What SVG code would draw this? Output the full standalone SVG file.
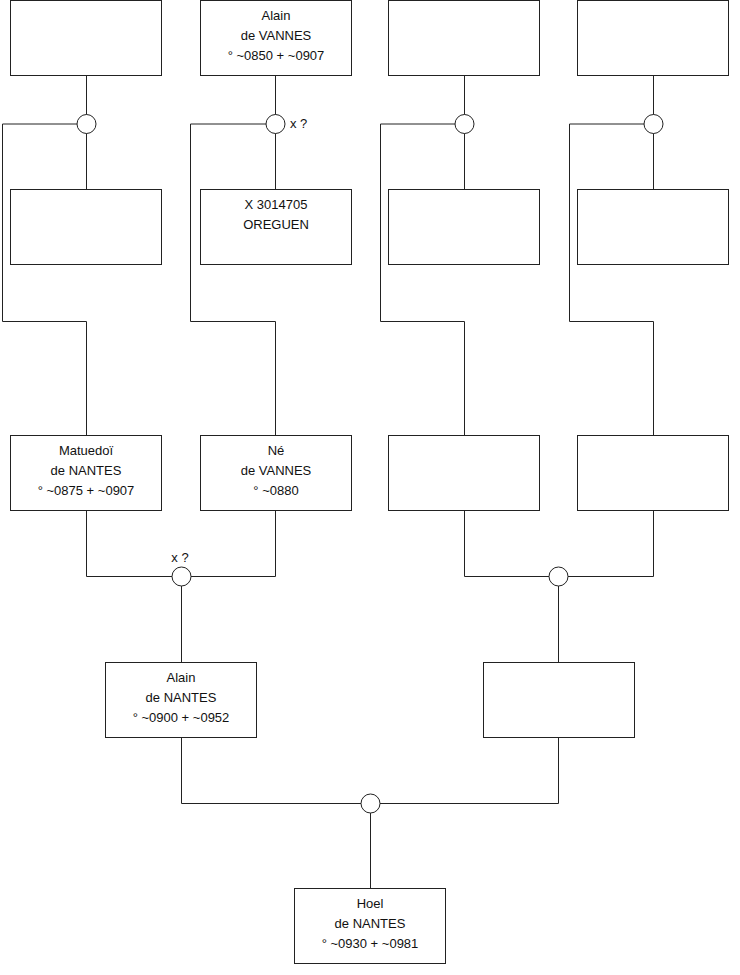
<svg xmlns="http://www.w3.org/2000/svg" width="740" height="975" viewBox="0 0 740 975">
<style>
.b{fill:#fff;stroke:#222;stroke-width:1}
.c{fill:#fff;stroke:#222;stroke-width:1}
.l{fill:none;stroke:#222;stroke-width:1}
text{font-family:"Liberation Sans",Arial,sans-serif;font-size:13px;fill:#111;text-anchor:middle}
.s{text-anchor:start}
</style>
<rect width="740" height="975" fill="#fff"/>
<g id="connectors">
<path class="l" d="M86.5 76V189M86.5 124H2.5V321.5H86.5V435"/>
<path class="l" d="M275.5 76V189M275.5 124H190.5V321.5H275.5V435"/>
<path class="l" d="M464.5 76V189M464.5 124H380.5V321.5H464.5V435"/>
<path class="l" d="M653.5 76V189M653.5 124H569.5V321.5H653.5V435"/>
<path class="l" d="M86.5 510V576.5H275.5V510M181.5 576.5V662"/>
<path class="l" d="M464.5 510V576.5H653.5V510M558.5 576.5V662"/>
<path class="l" d="M181.5 737V803.5H558.5V737M370.5 803.5V888"/>
</g>
<g id="u1"><circle class="c" cx="86.5" cy="124" r="9.5"/></g>
<g id="u2"><circle class="c" cx="275.5" cy="124" r="9.5"/><text class="s" x="290" y="128">x ?</text></g>
<g id="u3"><circle class="c" cx="464.5" cy="124" r="9.5"/></g>
<g id="u4"><circle class="c" cx="653.5" cy="124" r="9.5"/></g>
<g id="u5"><circle class="c" cx="181.5" cy="576.5" r="9.5"/><text x="180" y="562">x ?</text></g>
<g id="u6"><circle class="c" cx="558.5" cy="576.5" r="9.5"/></g>
<g id="u7"><circle class="c" cx="370.5" cy="803.5" r="9.5"/></g>
<g id="p1"><rect class="b" x="10.5" y="0.5" width="151" height="75"/></g>
<g id="p2"><rect class="b" x="200.5" y="0.5" width="151" height="75"/><text x="276" y="20">Alain</text><text x="276" y="40">de VANNES</text><text x="276" y="60">° ~0850 + ~0907</text></g>
<g id="p3"><rect class="b" x="388.5" y="0.5" width="151" height="75"/></g>
<g id="p4"><rect class="b" x="577.5" y="0.5" width="151" height="75"/></g>
<g id="p5"><rect class="b" x="10.5" y="189.5" width="151" height="75"/></g>
<g id="p6"><rect class="b" x="200.5" y="189.5" width="151" height="75"/><text x="276" y="209">X 3014705</text><text x="276" y="229">OREGUEN</text></g>
<g id="p7"><rect class="b" x="388.5" y="189.5" width="151" height="75"/></g>
<g id="p8"><rect class="b" x="577.5" y="189.5" width="151" height="75"/></g>
<g id="p9"><rect class="b" x="10.5" y="435.5" width="151" height="75"/><text x="86" y="455">Matuedoï</text><text x="86" y="475">de NANTES</text><text x="86" y="495">° ~0875 + ~0907</text></g>
<g id="p10"><rect class="b" x="200.5" y="435.5" width="151" height="75"/><text x="276" y="455">Né</text><text x="276" y="475">de VANNES</text><text x="276" y="495">° ~0880</text></g>
<g id="p11"><rect class="b" x="388.5" y="435.5" width="151" height="75"/></g>
<g id="p12"><rect class="b" x="577.5" y="435.5" width="151" height="75"/></g>
<g id="p13"><rect class="b" x="105.5" y="662.5" width="151" height="75"/><text x="181" y="682">Alain</text><text x="181" y="702">de NANTES</text><text x="181" y="722">° ~0900 + ~0952</text></g>
<g id="p14"><rect class="b" x="483.5" y="662.5" width="151" height="75"/></g>
<g id="p15"><rect class="b" x="294.5" y="888.5" width="151" height="75"/><text x="370" y="908">Hoel</text><text x="370" y="928">de NANTES</text><text x="370" y="948">° ~0930 + ~0981</text></g>
</svg>
